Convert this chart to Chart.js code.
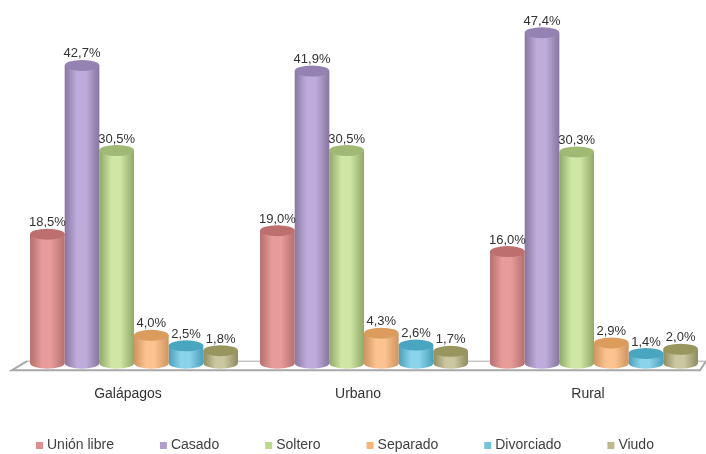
<!DOCTYPE html>
<html>
<head>
<meta charset="utf-8">
<script src="https://cdn.jsdelivr.net/npm/chart.js@4"></script>
<style>
  html, body { margin: 0; padding: 0; background: #fff; overflow: hidden; }
  #wrap { width: 706px; height: 454px; }
  #myChart { filter: blur(0.4px); }
</style>
</head>
<body>
<div id="wrap"><canvas id="myChart" width="706" height="454"></canvas></div>
<script>
var categories = ['Galápagos', 'Urbano', 'Rural'];
var seriesNames = ['Unión libre', 'Casado', 'Soltero', 'Separado', 'Divorciado', 'Viudo'];
var unionLibre = [18.5, 19.0, 16.0];
var casado = [42.7, 41.9, 47.4];
var soltero = [30.5, 30.5, 30.3];
var separado = [4.0, 4.3, 2.9];
var divorciado = [2.5, 2.6, 1.4];
var viudo = [1.8, 1.7, 2.0];

var seriesValues = [unionLibre, casado, soltero, separado, divorciado, viudo];
// side of cylinder, middle of cylinder, top cap
var legendColors = ['#dc8f8e', '#b19fd0', '#bcd88c', '#f9b47c', '#72c3dc', '#bdb98e'];
var edgeColors = ['#b46f6e', '#87769f', '#8fa968', '#cf9560', '#4a9fba', '#8e8b60'];
var midColors = ['#e89c9a', '#bfacdc', '#d0e6a4', '#fcc28f', '#8ad3ea', '#cbc7a0'];
var capColors = ['#bd6f6d', '#9483b2', '#a0b974', '#dc9c5e', '#4aa5c0', '#98955f'];

var depthShift = 6;   // bars sit a bit right of the tick labels, like the 3d original
var capHeight = 5.5;

var cylinderPlugin = {
  id: 'cylinders',
  beforeDatasetsDraw: function (chart) {
    // floor of the 3d chart
    var ctx = chart.ctx;
    var a = chart.chartArea;
    ctx.save();
    ctx.strokeStyle = '#a8a8a8';
    ctx.lineWidth = 1;
    ctx.beginPath();
    ctx.moveTo(a.left + 14, a.bottom - 2);
    ctx.lineTo(a.right + 3, a.bottom - 2);
    ctx.stroke();
    ctx.lineWidth = 2;
    ctx.beginPath();
    ctx.moveTo(a.left + 14, a.bottom - 2);
    ctx.lineTo(a.left - 1, a.bottom + 7);
    ctx.lineTo(a.right - 3, a.bottom + 7);
    ctx.lineTo(a.right + 3, a.bottom - 2);
    ctx.stroke();
    ctx.restore();
  },
  beforeDatasetDraw: function (chart, args) {
    var ctx = chart.ctx;
    var i = args.index;
    chart.getDatasetMeta(i).data.forEach(function (bar) {
      var x = bar.x + depthShift;
      var half = bar.width / 2;
      var grad = ctx.createLinearGradient(x - half, 0, x + half, 0);
      grad.addColorStop(0, edgeColors[i]);
      grad.addColorStop(0.35, midColors[i]);
      grad.addColorStop(0.6, midColors[i]);
      grad.addColorStop(1, edgeColors[i]);
      ctx.save();
      ctx.fillStyle = grad;
      ctx.beginPath();
      ctx.moveTo(x - half, bar.y);
      ctx.lineTo(x - half, bar.base);
      ctx.ellipse(x, bar.base, half, capHeight, 0, Math.PI, 0, true);
      ctx.lineTo(x + half, bar.y);
      ctx.closePath();
      ctx.fill();
      ctx.fillStyle = capColors[i];
      ctx.beginPath();
      ctx.ellipse(x, bar.y, half, capHeight, 0, 0, Math.PI * 2);
      ctx.fill();
      ctx.restore();
    });
    return false;
  },
  afterDatasetsDraw: function (chart) {
    var ctx = chart.ctx;
    ctx.save();
    ctx.font = '13px "Liberation Sans"';
    ctx.fillStyle = '#333333';
    ctx.textAlign = 'center';
    ctx.textBaseline = 'bottom';
    chart.data.datasets.forEach(function (ds, i) {
      chart.getDatasetMeta(i).data.forEach(function (bar, j) {
        var text = ds.data[j].toFixed(1).replace('.', ',') + '%';
        ctx.fillText(text, bar.x + depthShift, bar.y - 5);
      });
    });

    // legend row: the built-in one wraps at these gaps
    ctx.font = '14px "Liberation Sans"';
    ctx.textAlign = 'left';
    ctx.textBaseline = 'middle';
    var x = 36;
    seriesNames.forEach(function (name, i) {
      ctx.fillStyle = legendColors[i];
      ctx.fillRect(x, 442, 7, 7);
      ctx.fillStyle = '#404040';
      ctx.fillText(name, x + 11, 445);
      x += 11 + ctx.measureText(name).width + 46;
    });
    ctx.restore();
  }
};

var datasets = seriesNames.map(function (name, i) {
  return {
    label: name,
    data: seriesValues[i],
    backgroundColor: legendColors[i],
    categoryPercentage: 0.904,
    barPercentage: 1
  };
});

const myChart = new Chart(document.getElementById('myChart'), {
  type: 'bar',
  data: { labels: categories, datasets: datasets },
  plugins: [cylinderPlugin],
  options: {
    responsive: false,
    animation: false,
    layout: { padding: { left: 13, right: 3, top: 14.5, bottom: 36 } },
    plugins: {
      tooltip: { enabled: false },
      legend: { display: false }
    },
    scales: {
      x: {
        grid: { display: false },
        border: { display: false },
        ticks: {
          padding: 15,
          autoSkip: false,
          maxRotation: 0,
          color: '#333333',
          font: { family: '"Liberation Sans"', size: 14 }
        }
      },
      y: { display: false, min: 0, max: 50 }
    }
  }
});
</script>
</body>
</html>
